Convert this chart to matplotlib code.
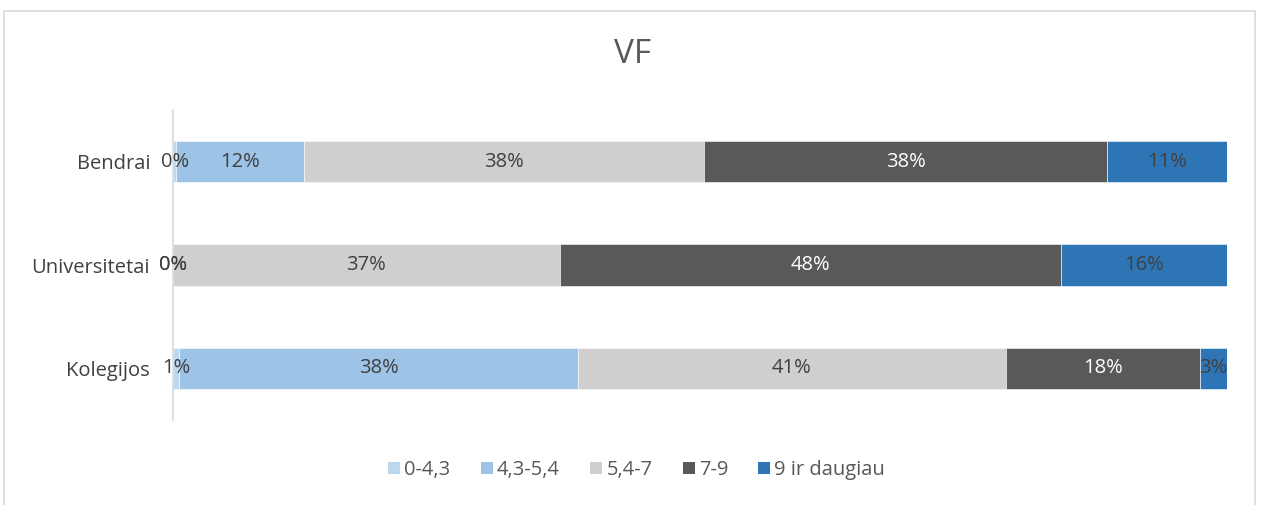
import matplotlib.pyplot as plt
from matplotlib.patches import Rectangle, Patch

plt.rcParams['font.family'] = ['Open Sans', 'DejaVu Sans']

categories = ["Kolegijos", "Universitetai", "Bendrai"]
series = ["0-4,3", "4,3-5,4", "5,4-7", "7-9", "9 ir daugiau"]
values = {
    "0-4,3":        [0.6, 0.0, 0.3],
    "4,3-5,4":      [37.8, 0.0, 12.1],
    "5,4-7":        [40.6, 36.7, 38.0],
    "7-9":          [18.4, 47.6, 38.2],
    "9 ir daugiau": [2.6, 15.7, 11.4],
}
colors = ["#bdd7ee", "#9dc3e6", "#d0cece", "#595959", "#2e75b6"]
text_colors = ["#404040", "#404040", "#404040", "white", "#404040"]

fig = plt.figure(figsize=(12.61, 5.05), dpi=100)
ax = fig.add_axes([0.1372, 0.168, 0.8358, 0.614])

# chart border
fig.patches.append(Rectangle((4 / 1261, -0.1), 1251 / 1261, 1 - 11 / 505 + 0.1,
                             transform=fig.transFigure, fill=False,
                             edgecolor="#d9d9d9", linewidth=1.2))

ypos = list(range(len(categories)))
left = [0.0] * len(categories)
for s, c, tc in zip(series, colors, text_colors):
    vals = values[s]
    ax.barh(ypos, vals, left=left, height=0.4, color=c, edgecolor="white",
            linewidth=0.4, label=s)
    for y, v, l in zip(ypos, vals, left):
        ax.text(l + v / 2, y, f"{round(v)}%", ha="center", va="center",
                fontsize=14.5, color=tc)
    left = [l + v for l, v in zip(left, vals)]

ax.set_xlim(0, 100)
ax.set_ylim(-0.5, 2.5)
ax.set_yticks(ypos)
ax.set_yticklabels(categories, fontsize=14.5, color="#404040")
ax.tick_params(axis="y", length=0, pad=16.5)
ax.set_xticks([])
for sp in ["top", "right", "bottom"]:
    ax.spines[sp].set_visible(False)
ax.spines["left"].set_color("#d9d9d9")
ax.spines["left"].set_linewidth(1.2)

fig.text(0.502, 0.892, "VF", ha="center", va="center", fontsize=24,
         color="#595959")

handles = [Patch(facecolor=c, label=s) for s, c in zip(series, colors)]
fig.legend(handles=handles, loc="center", bbox_to_anchor=(0.505, 0.069),
           ncol=5, frameon=False, fontsize=14.5, handlelength=0.6,
           handleheight=0.6, handletextpad=0.2, columnspacing=1.5,
           labelcolor="#595959")

fig.savefig("out.png", dpi=100)
